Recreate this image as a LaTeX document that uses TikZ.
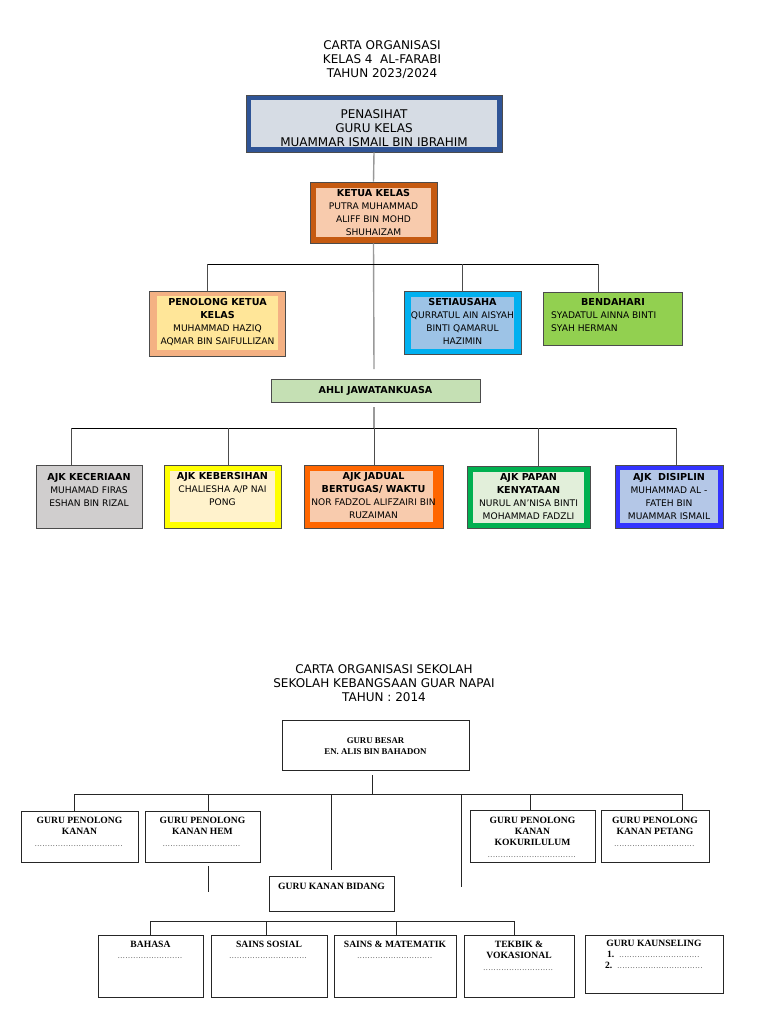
\documentclass[tikz,border=0pt]{standalone}
\usepackage{fontspec}
\setmainfont{DejaVu Sans}
\newfontfamily\bookfont{Liberation Serif}
\usepackage{tikz}
\usetikzlibrary{positioning}

\definecolor{navy}{HTML}{2F5496}
\definecolor{pale}{HTML}{D6DCE4}
\definecolor{bata}{HTML}{C55A11}
\definecolor{pic}{HTML}{F8CBAD}
\definecolor{jingga}{HTML}{F4B183}
\definecolor{krim}{HTML}{FFE699}
\definecolor{langit}{HTML}{00B0F0}
\definecolor{birumuda}{HTML}{9DC3E6}
\definecolor{daun}{HTML}{92D050}
\definecolor{pudina}{HTML}{C5E0B4}
\definecolor{kelabu}{HTML}{D0CECE}
\definecolor{kuning}{HTML}{FFFF00}
\definecolor{susu}{HTML}{FFF2CC}
\definecolor{oren}{HTML}{FF6600}
\definecolor{hijau}{HTML}{00B050}
\definecolor{hijaumuda}{HTML}{E2EFDA}
\definecolor{biru}{HTML}{3333FF}
\definecolor{biruair}{HTML}{B4C7E7}

\newcommand{\titikan}[1]{{\fontsize{6}{7}\selectfont\color{black!70}\hbox to #1{\leaders\hbox to 2.6pt{\hss.\hss}\hfill}}}
\newcommand{\tebal}[1]{{\fontsize{9.6}{13}\selectfont\bfseries #1}}

\begin{document}
\begin{tikzpicture}[x=1pt,y=-1pt,
	frame/.style={draw=black!70, line width=0.6pt, inner sep=0pt},
	isi/.style={inner sep=0pt},
	teks/.style={align=center, inner sep=0pt, font=\fontsize{9.1}{13}\selectfont},
	tajuk/.style={align=center, inner sep=0pt, font=\fontsize{12}{14}\selectfont},
	bus/.style={draw=black, line width=0.7pt},
	drop/.style={draw=black!70, line width=0.9pt},
	tiang/.style={draw=black!40, line width=1.4pt},
	kotak/.style={draw=black!85, line width=0.9pt, fill=white, inner sep=0pt},
	teksb/.style={align=center, inner sep=0pt, font=\bookfont\bfseries\fontsize{9.6}{11}\selectfont},
	garis/.style={draw=black!85, line width=0.8pt}]
	\fill[white] (0,0) rectangle (768,1024);
	\useasboundingbox (0,0) rectangle (768,1024);

	% carta kelas
	\node[tajuk] (judul) at (382,60) {CARTA ORGANISASI\\KELAS 4\ \ AL-FARABI\\TAHUN 2023/2024};

	\node[frame, fill=navy, minimum width=256pt, minimum height=57pt] (penasihat) at (374,123.5) {};
	\node[isi, fill=pale, minimum width=246pt, minimum height=47pt] (penasihat-in) at (penasihat) {};
	\node[tajuk] (penasihat-t) at (374,128) {PENASIHAT\\GURU KELAS\\MUAMMAR ISMAIL BIN IBRAHIM};

	\node[frame, fill=bata, minimum width=127pt, minimum height=61pt] (ketua) at (373.5,212.5) {};
	\node[isi, fill=pic, minimum width=115pt, minimum height=49pt] (ketua-in) at (ketua) {};
	\node[teks] (ketua-t) at (373.5,213) {\tebal{KETUA KELAS}\\PUTRA MUHAMMAD\\ALIFF BIN MOHD\\SHUHAIZAM};

	\node[frame, fill=jingga, minimum width=136pt, minimum height=65pt] (penolong) at (217,323.5) {};
	\node[isi, fill=krim, minimum width=121pt, minimum height=54pt] (penolong-in) at (217.5,323) {};
	\node[teks] (penolong-t) at (217.5,322) {\tebal{PENOLONG KETUA}\\\tebal{KELAS}\\MUHAMMAD HAZIQ\\AQMAR BIN SAIFULLIZAN};

	\node[frame, fill=langit, minimum width=117pt, minimum height=63pt] (setia) at (462.5,322.5) {};
	\node[isi, fill=birumuda, minimum width=103pt, minimum height=52pt] (setia-in) at (setia) {};
	\node[teks] (setia-t) at (462.5,321.5) {\tebal{SETIAUSAHA}\\QURRATUL AIN AISYAH\\BINTI QAMARUL\\HAZIMIN};

	\node[frame, fill=daun, minimum width=139pt, minimum height=53pt] (bendahari) at (612.5,318.5) {};
	\node[teks] (bendahari-h) at (613,301.5) {\tebal{BENDAHARI}};
	\node[teks, align=left, anchor=west] (bendahari-t) at (551,321.5) {SYADATUL AINNA BINTI\\SYAH HERMAN};

	\node[frame, fill=pudina, minimum width=209pt, minimum height=23pt,
		font=\fontsize{9.6}{13}\selectfont\bfseries] (ahli) at (375.5,390.5) {AHLI JAWATANKUASA};

	\node[frame, fill=kelabu, minimum width=106pt, minimum height=63pt] (kec) at (89,496.5) {};
	\node[teks] (kec-t) at (89,490) {\tebal{AJK KECERIAAN}\\MUHAMAD FIRAS\\ESHAN BIN RIZAL};

	\node[frame, fill=kuning, minimum width=117pt, minimum height=63pt] (keb) at (222.5,496.5) {};
	\node[isi, fill=susu, minimum width=105pt, minimum height=51pt] (keb-in) at (keb) {};
	\node[teks] (keb-t) at (222.5,488.5) {\tebal{AJK KEBERSIHAN}\\CHALIESHA A/P NAI\\PONG};

	\node[frame, fill=oren, minimum width=139pt, minimum height=63pt] (jad) at (373.5,496.5) {};
	\node[isi, fill=pic, minimum width=123pt, minimum height=51pt] (jad-in) at (371.5,496.5) {};
	\node[teks] (jad-t) at (373.5,496) {\tebal{AJK JADUAL}\\\tebal{BERTUGAS/ WAKTU}\\NOR FADZOL ALIFZAIRI BIN\\RUZAIMAN};

	\node[frame, fill=hijau, minimum width=123pt, minimum height=62pt] (pap) at (528.5,497) {};
	\node[isi, fill=hijaumuda, minimum width=111pt, minimum height=51pt] (pap-in) at (pap) {};
	\node[teks] (pap-t) at (528.5,496.5) {\tebal{AJK PAPAN}\\\tebal{KENYATAAN}\\NURUL AN'NISA BINTI\\MOHAMMAD FADZLI};

	\node[frame, fill=biru, minimum width=108pt, minimum height=63pt] (dis) at (669,496.5) {};
	\node[isi, fill=biruair, minimum width=98pt, minimum height=53pt] (dis-in) at (dis) {};
	\node[teks] (dis-t) at (669,496.5) {\tebal{AJK\ \ DISIPLIN}\\MUHAMMAD AL -\\FATEH BIN\\MUAMMAR ISMAIL};

	\coordinate (b1) at (207,264);
	\coordinate (b2) at (598,264);
	\coordinate (tiang-end) at (374,369);
	\coordinate (a1) at (71,428);
	\coordinate (a5) at (676,428);
	\draw[tiang] (penasihat.south) -- (ketua.north);
	\draw[tiang] (ketua.south) -- (tiang-end);
	\draw[bus] (b1) -- (b2);
	\draw[drop] (b1) -- (b1 |- penolong.north);
	\draw[drop] (b1 -| setia.north) -- (setia.north);
	\draw[drop] (b2) -- (b2 |- bendahari.north);
	\draw[tiang] ([yshift=-5pt]ahli.south -| tiang-end) -- (a1 -| tiang-end);
	\draw[bus] (a1) -- (a5);
	\foreach \n/\x in {kec/71, keb/228, jad/374, pap/538, dis/676}
	{
		\path (\x,428) coordinate (top-\n);
		\draw[drop] (top-\n) -- (top-\n |- \n.north);
	}

	% carta sekolah
	\node[tajuk] (judul2) at (384,683) {CARTA ORGANISASI SEKOLAH\\SEKOLAH KEBANGSAAN GUAR NAPAI\\TAHUN : 2014};

	\node[kotak, minimum width=187pt, minimum height=50pt] (gb) at (375.5,745) {};
	\node[teksb, font=\bookfont\bfseries\fontsize{8.8}{10.5}\selectfont] (gb-t) at (375.5,746) {GURU BESAR\\EN. ALIS BIN BAHADON};

	\node[kotak, minimum width=117pt, minimum height=51pt] (kanan) at (79.5,836.5) {};
	\node[teksb, anchor=north] (kanan-t) at (79.5,816.5) {GURU PENOLONG\\KANAN\\[1pt]\titikan{90pt}};
	\node[kotak, minimum width=115pt, minimum height=51pt] (hem) at (202.5,836.5) {};
	\node[teksb, anchor=north] (hem-t) at (202.5,816.5) {GURU PENOLONG\\KANAN HEM\\[1pt]\titikan{80pt}};
	\node[kotak, minimum width=125pt, minimum height=52pt] (kok) at (532.5,836) {};
	\node[teksb, anchor=north] (kok-t) at (532.5,816.5) {GURU PENOLONG\\KANAN\\KOKURILULUM\\[1pt]\titikan{90pt}};
	\node[kotak, minimum width=108pt, minimum height=52pt] (pet) at (655,836) {};
	\node[teksb, anchor=north] (pet-t) at (655,816.5) {GURU PENOLONG\\KANAN PETANG\\[1pt]\titikan{82pt}};

	\node[kotak, minimum width=125pt, minimum height=35pt] (bidang) at (331.5,893.5) {};
	\node[teksb, anchor=north] (bidang-t) at (331.5,882.5) {GURU KANAN BIDANG};

	\node[kotak, minimum width=105pt, minimum height=62pt] (bahasa) at (150.5,966) {};
	\node[teksb, anchor=north] (bahasa-t) at (150.5,940.5) {BAHASA\\[0pt]\titikan{66pt}};
	\node[kotak, minimum width=116pt, minimum height=62pt] (sosial) at (269,966) {};
	\node[teksb, anchor=north] (sosial-t) at (269,940.5) {SAINS SOSIAL\\[0pt]\titikan{80pt}};
	\node[kotak, minimum width=122pt, minimum height=62pt] (mat) at (395,966) {};
	\node[teksb, anchor=north] (mat-t) at (395,940.5) {SAINS \& MATEMATIK\\[0pt]\titikan{76pt}};
	\node[kotak, minimum width=110pt, minimum height=62pt] (tek) at (519,966) {};
	\node[teksb, anchor=north] (tek-t) at (519,940.5) {TEKBIK \&\\VOKASIONAL\\[1pt]\titikan{72pt}};
	\node[kotak, minimum width=138pt, minimum height=58pt] (kau) at (654,964) {};
	\node[teksb, anchor=north] (kau-t) at (654,939.5) {GURU KAUNSELING\\1.\ \ \titikan{82pt}\\2.\ \ \titikan{86pt}};

	\coordinate (c1) at (74,794);
	\coordinate (c6) at (682,794);
	\coordinate (c3) at (331,794);
	\coordinate (c4) at (461,794);
	\coordinate (hujung3) at (331,870);
	\coordinate (hujung4) at (461,887);
	\coordinate (hem-bawah) at (208,892);
	\coordinate (e1) at (150,921);
	\coordinate (e4) at (514,921);
	\draw[garis] ([yshift=-5pt]gb.south -| 372,0) -- (c1 -| 372,0);
	\draw[garis] (c1) -- (c6);
	\draw[garis] (c1) -- (c1 |- kanan.north);
	\draw[garis] (c1 -| hem-bawah) -- (hem-bawah |- hem.north);
	\draw[garis] ([yshift=-4pt]hem.south -| hem-bawah) -- (hem-bawah);
	\draw[garis] (c3) -- (hujung3);
	\draw[garis] (c4) -- (hujung4);
	\draw[garis] (c1 -| 530,0) -- (kok.north -| 530,0);
	\draw[garis] (c6) -- (c6 |- pet.north);
	\draw[garis] (e1) -- (e4);
	\foreach \n/\x in {bahasa/150, sosial/266, mat/396, tek/514}
	{
		\path (\x,921) coordinate (atas-\n);
		\draw[garis] (atas-\n) -- (atas-\n |- \n.north);
	}
\end{tikzpicture}
\end{document}
